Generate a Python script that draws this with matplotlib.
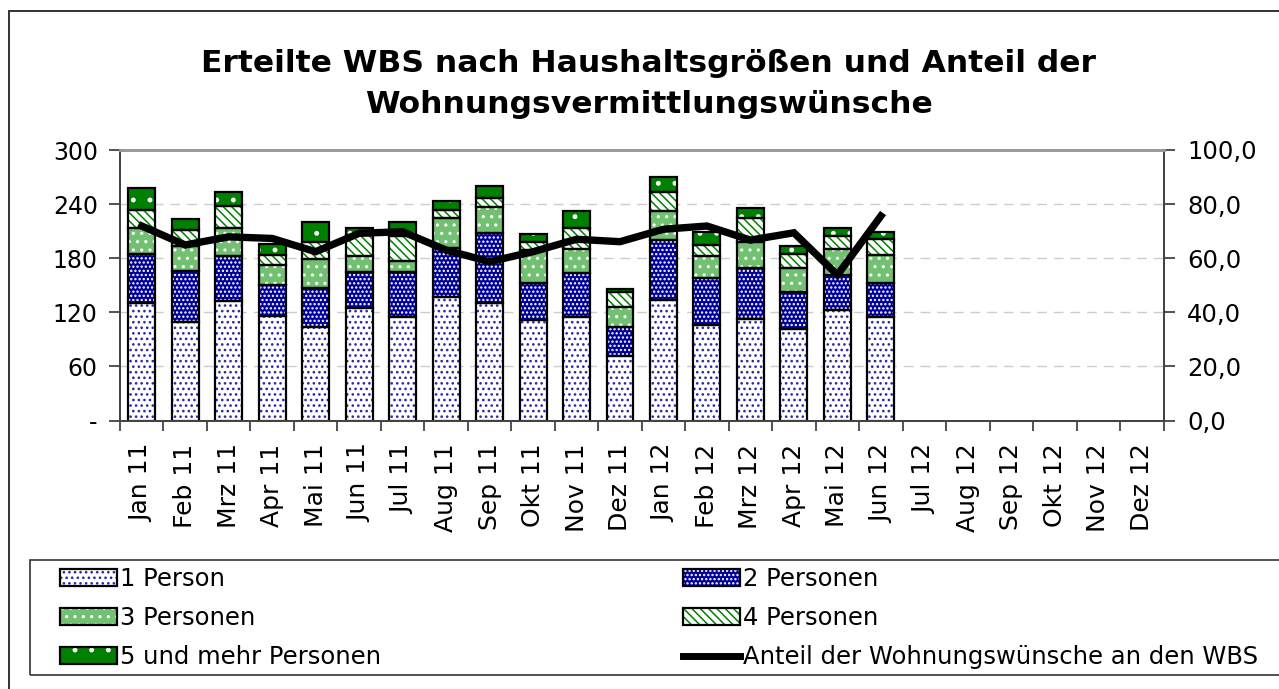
import matplotlib
matplotlib.use("Agg")
import matplotlib.pyplot as plt
import numpy as np
from matplotlib.patches import Patch, Rectangle
from matplotlib.lines import Line2D
from matplotlib.ticker import FixedLocator, NullFormatter, FixedFormatter

# ---------------- data ----------------
months = ["Jan 11", "Feb 11", "Mrz 11", "Apr 11", "Mai 11", "Jun 11", "Jul 11", "Aug 11",
          "Sep 11", "Okt 11", "Nov 11", "Dez 11", "Jan 12", "Feb 12", "Mrz 12", "Apr 12",
          "Mai 12", "Jun 12", "Jul 12", "Aug 12", "Sep 12", "Okt 12", "Nov 12", "Dez 12"]
p1 = [130, 109, 132, 116, 104, 125, 115, 137, 130, 111, 115, 71, 134, 106, 113, 102, 122, 115]
p2 = [55, 57, 50, 34, 43, 40, 50, 54, 78, 41, 49, 33, 66, 52, 56, 40, 39, 38]
p3 = [29, 27, 32, 23, 32, 17, 12, 34, 29, 37, 26, 22, 32, 24, 29, 27, 29, 30]
p4 = [19, 18, 24, 11, 19, 24, 28, 8, 10, 9, 24, 16, 21, 13, 27, 16, 15, 18]
p5 = [25, 13, 15, 12, 22, 8, 15, 10, 13, 9, 18, 4, 17, 14, 11, 9, 8, 8]
anteil = [71.9, 64.9, 67.9, 67.3, 62.4, 69.2, 69.8, 63.0, 58.7, 62.4, 67.0, 66.1,
          70.7, 71.9, 66.7, 69.4, 53.8, 75.6]
series_names = ["1 Person", "2 Personen", "3 Personen", "4 Personen", "5 und mehr Personen"]
line_name = "Anteil der Wohnungswünsche an den WBS"
left_ticks = [0, 60, 120, 180, 240, 300]
left_labels = ["-", "60", "120", "180", "240", "300"]
right_ticks = [0, 20, 40, 60, 80, 100]
right_labels = ["0,0", "20,0", "40,0", "60,0", "80,0", "100,0"]
title = "Erteilte WBS nach Haushaltsgrößen und Anteil der\nWohnungsvermittlungswünsche"

# ---------------- styles ----------------
styles = [
    dict(face="white", hcol="#2b2ba0", hatch="..."),
    dict(face="#000099", hcol="white", hatch="...."),
    dict(face="#72c072", hcol="white", hatch=".."),
    dict(face="white", hcol="#008000", hatch="\\\\\\\\"),
    dict(face="#008000", hcol="white", hatch="."),
]

plt.rcParams['font.family'] = ['DejaVu Sans']
plt.rcParams['hatch.linewidth'] = 1.1
W, H = 1279, 689
fig = plt.figure(figsize=(W / 100, H / 100), dpi=100)

# outer frame
fig.patches.append(Rectangle((9 / W, -0.1), 1.2, 1 - 11 / H + 0.1, transform=fig.transFigure,
                             fill=False, edgecolor="#333333", linewidth=1.4))
# legend frame
fig.patches.append(Rectangle((30 / W, 1 - 675 / H), 1.2, (675 - 560) / H, transform=fig.transFigure,
                             fill=False, edgecolor="#333333", linewidth=1.2))

l, r, b, t = 120 / W, 1163.5 / W, 1 - 420.5 / H, 1 - 150 / H
ax = fig.add_axes([l, b, r - l, t - b])
ax2 = ax.twinx()

x = np.arange(len(p1))
width = 0.62
data = [p1, p2, p3, p4, p5]
bottom = np.zeros(len(p1))
handles = []
for vals, st, name in zip(data, styles, series_names):
    vals = np.array(vals, dtype=float)
    ax.bar(x, vals, width, bottom=bottom, color=st["face"], edgecolor=st["hcol"],
           hatch=st["hatch"], linewidth=0, zorder=2)
    ax.bar(x, vals, width, bottom=bottom, fill=False, edgecolor="black",
           linewidth=1.6, zorder=3)
    hp = Patch(facecolor=st["face"], edgecolor=st["hcol"], hatch=st["hatch"], linewidth=0)
    op = Patch(fill=False, edgecolor="black", linewidth=1.6)
    handles.append(((hp, op), name))
    bottom += vals

ln, = ax2.plot(np.arange(len(anteil)), anteil, color="black", linewidth=5.3,
               solid_joinstyle="miter", zorder=5)

# axes setup
ax.set_xlim(-0.5, len(months) - 0.5)
ax.set_ylim(0, 300)
ax2.set_ylim(0, 100)
ax.set_yticks(left_ticks)
ax.set_yticklabels(left_labels)
ax2.set_yticks(right_ticks)
ax2.set_yticklabels(right_labels)

ax.xaxis.set_major_locator(FixedLocator(np.arange(len(months) + 1) - 0.5))
ax.xaxis.set_major_formatter(NullFormatter())
ax.xaxis.set_minor_locator(FixedLocator(np.arange(len(months))))
ax.xaxis.set_minor_formatter(FixedFormatter(months))
ax.tick_params(axis="x", which="major", direction="out", length=7, width=1.2, color="#333333")
ax.tick_params(axis="x", which="minor", length=0, pad=16.5, labelsize=18, labelrotation=90)
ax.tick_params(axis="y", direction="out", length=8, width=1.2, color="#333333", pad=8, labelsize=17)
ax2.tick_params(axis="y", direction="out", length=8, width=1.2, color="#333333", pad=9, labelsize=17.5)
for lab in ax.xaxis.get_minorticklabels():
    lab.set_verticalalignment("top")

ax.grid(axis="y", color="#cccccc", linestyle=(0, (7, 5)), linewidth=1.0, zorder=0)
ax.set_axisbelow(True)

for a in (ax, ax2):
    a.spines["top"].set_color("#999999")
    a.spines["top"].set_linewidth(2.0)
    for s in ("left", "right", "bottom"):
        a.spines[s].set_color("#444444")
        a.spines[s].set_linewidth(1.4)
ax.patch.set_visible(False)

fig.text(0.507, 1 - 84 / H, title, ha="center", va="center", fontsize=22.6,
         fontweight="bold", linespacing=1.5)

# legends: two columns placed separately
line_handle = Line2D([], [], color="black", linewidth=5)
col1 = [handles[0], handles[2], handles[4]]
col2 = [handles[1], handles[3], (line_handle, line_name)]
leg_kw = dict(loc="upper left", fontsize=17.5, frameon=False, handlelength=2.35,
              handleheight=0.65, handletextpad=0.12, labelspacing=0.62,
              borderpad=0, borderaxespad=0)
leg1 = fig.legend([h for h, _ in col1], [n for _, n in col1],
                  bbox_to_anchor=(60 / W, 1 - 567 / H), **leg_kw)
leg2 = fig.legend([h for h, _ in col2], [n for _, n in col2],
                  bbox_to_anchor=(683 / W, 1 - 567 / H), **leg_kw)

fig.savefig("out.png", dpi=100)
